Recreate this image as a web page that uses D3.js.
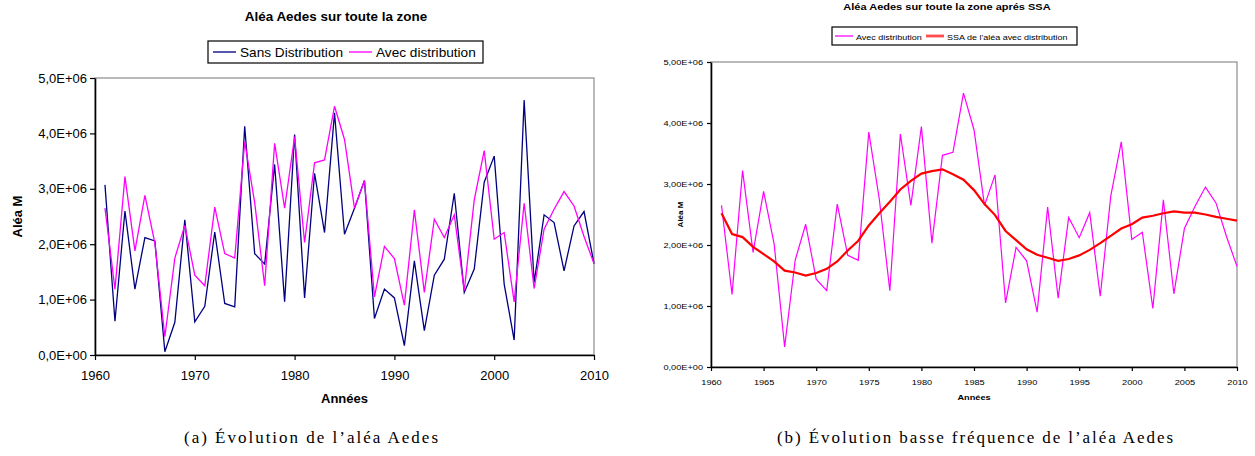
<!DOCTYPE html>
<html>
<head>
<meta charset="utf-8">
<script src="https://cdn.jsdelivr.net/npm/d3@7"></script>
<style>
  body { margin: 0; background: #fff; }
  svg { display: block; }
</style>
</head>
<body>
<div id="fig"></div>
<script>
// values are in millions (unit 1E+06)
var years = [1961, 1962, 1963, 1964, 1965, 1966, 1967, 1968, 1969, 1970,
  1971, 1972, 1973, 1974, 1975, 1976, 1977, 1978, 1979, 1980,
  1981, 1982, 1983, 1984, 1985, 1986, 1987, 1988, 1989, 1990,
  1991, 1992, 1993, 1994, 1995, 1996, 1997, 1998, 1999, 2000,
  2001, 2002, 2003, 2004, 2005, 2006, 2007, 2008, 2009, 2010];

var sansDistribution = [3.07, 0.61, 2.60, 1.19, 2.12, 2.06, 0.06, 0.59, 2.44, 0.60,
  0.88, 2.22, 0.93, 0.87, 4.13, 1.83, 1.64, 3.44, 0.96, 3.98,
  1.03, 3.28, 2.21, 4.37, 2.18, 2.65, 3.15, 0.66, 1.19, 1.03,
  0.17, 1.70, 0.44, 1.44, 1.73, 2.92, 1.13, 1.55, 3.12, 3.59,
  1.28, 0.27, 4.60, 1.31, 2.53, 2.39, 1.52, 2.33, 2.59, 1.65];

var avecDistribution = [2.65, 1.19, 3.22, 1.88, 2.88, 2.02, 0.33, 1.75, 2.34, 1.44,
  1.25, 2.67, 1.83, 1.75, 3.85, 2.75, 1.25, 3.82, 2.65, 3.94,
  2.03, 3.47, 3.52, 4.49, 3.89, 2.65, 3.15, 1.05, 1.96, 1.74,
  0.90, 2.62, 1.13, 2.45, 2.12, 2.53, 1.16, 2.80, 3.69, 2.09,
  2.21, 0.96, 2.74, 1.20, 2.27, 2.63, 2.95, 2.69, 2.14, 1.65];

var ssaAvecDistribution = [2.52, 2.18, 2.13, 1.97, 1.85, 1.73, 1.58, 1.55, 1.50, 1.54,
  1.61, 1.73, 1.91, 2.07, 2.32, 2.52, 2.71, 2.91, 3.05, 3.17,
  3.21, 3.24, 3.16, 3.07, 2.90, 2.67, 2.49, 2.23, 2.08, 1.93,
  1.84, 1.79, 1.74, 1.77, 1.83, 1.92, 2.03, 2.15, 2.27, 2.34,
  2.45, 2.48, 2.52, 2.55, 2.53, 2.53, 2.50, 2.46, 2.43, 2.40];

var yTicks = [0, 1, 2, 3, 4, 5];
var xTicksA = [1960, 1970, 1980, 1990, 2000, 2010];
var xTicksB = [1960, 1965, 1970, 1975, 1980, 1985, 1990, 1995, 2000, 2005, 2010];

var FONT = "'Liberation Sans', Arial, sans-serif";

var svg = d3.select("#fig").append("svg")
  .attr("width", 1255)
  .attr("height", 456);

function label(g, x, y, str, o) {
  var tr = "translate(" + x + "," + y + ") scale(" + (o.sx || 1) + ",1)";
  if (o.rotate) tr += " rotate(-90)";
  return g.append("text")
    .attr("transform", tr)
    .attr("text-anchor", o.anchor || "middle")
    .style("font-family", FONT)
    .style("font-size", o.size + "px")
    .style("font-weight", o.bold ? "bold" : "normal")
    .attr("fill", "#000")
    .text(str);
}

function sci(digits) {
  return function(v) {
    if (v === 0) return (0).toFixed(digits).replace(".", ",") + "E+00";
    return v.toFixed(digits).replace(".", ",") + "E+06";
  };
}

function drawChart(c) {
  var g = svg.append("g");

  var x = d3.scaleLinear().domain([1960, 2010]).range([c.left, c.right]);
  var y = d3.scaleLinear().domain([0, 5]).range([c.bottom, c.top]);

  // grey plot frame
  g.append("rect")
    .attr("x", c.left).attr("y", c.top)
    .attr("width", c.right - c.left).attr("height", c.bottom - c.top)
    .attr("fill", "none")
    .attr("stroke", "#8c8c8c")
    .attr("stroke-width", 1.2);

  var line = d3.line()
    .x(function(d, i) { return x(years[i]); })
    .y(function(d) { return y(d); });

  c.series.forEach(function(s) {
    g.append("path")
      .datum(s.values)
      .attr("fill", "none")
      .attr("stroke", s.color)
      .attr("stroke-width", s.width)
      .attr("stroke-linejoin", "miter")
      .attr("d", line);
  });

  var ya = g.append("g")
    .attr("transform", "translate(" + c.left + ",0)")
    .call(d3.axisLeft(y).tickValues(yTicks).tickSize(c.tick).tickSizeOuter(0)
      .tickPadding(c.yPad).tickFormat(sci(c.digits)));
  var xa = g.append("g")
    .attr("transform", "translate(0," + c.bottom + ")")
    .call(d3.axisBottom(x).tickValues(c.xTicks).tickSize(c.tick).tickSizeOuter(0)
      .tickPadding(c.xPad).tickFormat(d3.format("d")));

  [ya, xa].forEach(function(a) {
    a.select(".domain").attr("stroke", "#000").attr("stroke-width", 1.6);
    a.selectAll(".tick line").attr("stroke", "#000").attr("stroke-width", 1.2);
    a.selectAll(".tick text")
      .style("font-family", FONT)
      .style("font-size", c.tickSize + "px")
      .attr("fill", "#000");
  });
  ya.selectAll(".tick text")
    .attr("x", -(c.tick + c.yPad) / c.sx)
    .attr("transform", "scale(" + c.sx + ",1)");
  xa.selectAll(".tick text")
    .attr("transform", "scale(" + c.sx + ",1)");

  label(g, c.titleX, c.titleY, c.title, { size: c.titleSize, bold: true, sx: c.titleSx });
  label(g, (c.left + c.right) / 2, c.xLabelY, "Années", { size: c.labelSize, bold: true, sx: c.sx });
  label(g, c.yLabelX, (c.top + c.bottom) / 2, "Aléa M", { size: c.labelSize, bold: true, rotate: true });

  // legend
  var lg = g.append("g");
  lg.append("rect")
    .attr("x", c.legend.x).attr("y", c.legend.y)
    .attr("width", c.legend.w).attr("height", c.legend.h)
    .attr("fill", "#fff").attr("stroke", "#000").attr("stroke-width", 1.2);
  c.series.forEach(function(s, i) {
    var it = c.legend.items[i];
    lg.append("line")
      .attr("x1", it.x).attr("x2", it.x + c.legend.sample)
      .attr("y1", c.legend.y + c.legend.h / 2).attr("y2", c.legend.y + c.legend.h / 2)
      .attr("stroke", s.color).attr("stroke-width", s.width + 0.6)
      .attr("stroke-opacity", 0.7);
    label(lg, it.x + c.legend.sample + c.legend.gap, c.legend.base, s.name,
      { size: c.legend.size, anchor: "start", sx: c.legend.sx });
  });

  // caption under the figure
  svg.append("text")
    .attr("x", c.capX).attr("y", 443)
    .attr("text-anchor", "middle")
    .attr("textLength", c.capW)
    .attr("lengthAdjust", "spacing")
    .style("font-family", "'Liberation Serif', 'DejaVu Serif', serif")
    .style("font-size", "17px")
    .text(c.caption);
}

drawChart({
  left: 95, right: 594, top: 78, bottom: 355,
  xTicks: xTicksA, digits: 1, tick: 5, yPad: 3, xPad: 11,
  tickSize: 13, sx: 1,
  title: "Aléa Aedes sur toute la zone", titleX: 336, titleY: 21, titleSize: 12, titleSx: 1.12,
  xLabelY: 403, yLabelX: 22, labelSize: 13,
  series: [
    { name: "Sans Distribution", values: sansDistribution, color: "#000080", width: 1.3 },
    { name: "Avec distribution", values: avecDistribution, color: "#ff00ff", width: 1.3 }
  ],
  legend: { x: 208, y: 41, w: 275, h: 22, base: 56.5, size: 13, sx: 1.05, sample: 23, gap: 4,
    items: [{ x: 213 }, { x: 349 }] },
  caption: "(a) Évolution de l’aléa Aedes", capX: 311, capW: 254
});

drawChart({
  left: 711, right: 1237, top: 62, bottom: 367,
  xTicks: xTicksB, digits: 2, tick: 4, yPad: 4, xPad: 8,
  tickSize: 8, sx: 1.15,
  title: "Aléa Aedes sur toute la zone aprés SSA", titleX: 947, titleY: 9.5, titleSize: 8.8, titleSx: 1.25,
  xLabelY: 400, yLabelX: 683, labelSize: 8,
  series: [
    { name: "Avec distribution", values: avecDistribution, color: "#ff00ff", width: 1.2 },
    { name: "SSA de l'aléa avec distribution", values: ssaAvecDistribution, color: "#ff0000", width: 2.2 }
  ],
  legend: { x: 832, y: 27, w: 245, h: 18, base: 39.5, size: 7.5, sx: 1.2, sample: 18, gap: 3,
    items: [{ x: 835 }, { x: 926 }] },
  caption: "(b) Évolution basse fréquence de l’aléa Aedes", capX: 975, capW: 396
});
</script>
</body>
</html>
